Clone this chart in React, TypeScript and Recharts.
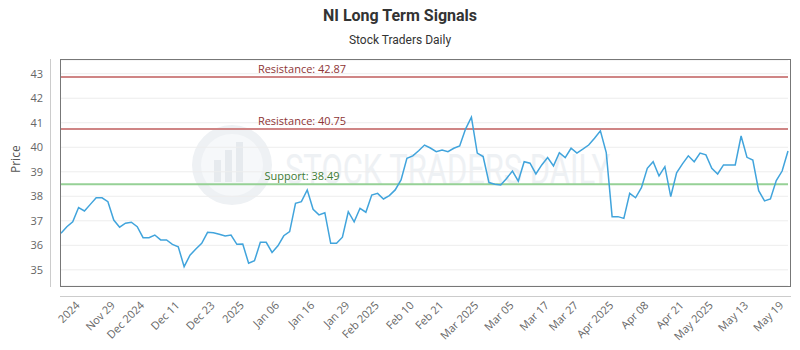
import React from 'react';
import { LineChart, Line, XAxis, YAxis, CartesianGrid, ReferenceLine } from 'recharts';

// closing prices, one per trading day
const prices = [
    36.49, 36.76, 36.96, 37.54, 37.40, 37.67, 37.94, 37.94, 37.78, 37.03,
    36.74, 36.90, 36.94, 36.76, 36.31, 36.31, 36.42, 36.22, 36.22, 36.04,
    35.94, 35.13, 35.60, 35.85, 36.08, 36.53, 36.51, 36.45, 36.38, 36.42,
    36.04, 36.05, 35.27, 35.37, 36.12, 36.12, 35.71, 35.98, 36.39, 36.56,
    37.71, 37.78, 38.26, 37.47, 37.24, 37.33, 36.08, 36.08, 36.33, 37.37,
    36.96, 37.51, 37.35, 38.05, 38.12, 37.89, 38.03, 38.26, 38.67, 39.55,
    39.65, 39.86, 40.09, 39.97, 39.82, 39.89, 39.82, 39.96, 40.05, 40.74,
    41.23, 39.76, 39.62, 38.56, 38.49, 38.46, 38.73, 39.03, 38.62, 39.41,
    39.35, 38.91, 39.28, 39.58, 39.24, 39.78, 39.58, 39.96, 39.76, 39.92,
    40.09, 40.37, 40.67, 39.78, 37.17, 37.17, 37.10, 38.12, 37.94, 38.35,
    39.14, 39.41, 38.83, 39.21, 37.99, 38.96, 39.32, 39.65, 39.41, 39.76,
    39.69, 39.14, 38.91, 39.28, 39.28, 39.28, 40.46, 39.59, 39.48, 38.23,
    37.81, 37.89, 38.64, 39.03, 39.85,
];

// x axis labels and the trading-day index they sit on
const tickIndex = [3, 9, 14, 20, 26, 31, 37, 43, 49, 54, 60, 65, 71, 77, 83, 88, 94, 100, 106, 111, 117, 123];
const tickLabels = [
    '2024', 'Nov 29', 'Dec 2024', 'Dec 11', 'Dec 23', '2025', 'Jan 06', 'Jan 16', 'Jan 29', 'Feb 2025', 'Feb 10',
    'Feb 21', 'Mar 2025', 'Mar 05', 'Mar 17', 'Mar 27', 'Apr 2025', 'Apr 08', 'Apr 21', 'May 2025', 'May 13', 'May 19',
];
const yTicks = [35, 36, 37, 38, 39, 40, 41, 42, 43];

const resistance = [42.87, 40.75];
const support = [38.49];

const data = prices.map((price, i) => ({ i, price }));

const FONT = '"Open Sans", sans-serif';

const XTick = (props: any) => {
    const { x, y, payload } = props;
    const k = tickIndex.indexOf(payload.value);
    const px = x + 2;
    const py = y + 20;
    return (
        <text x={px} y={py} transform={`rotate(-45 ${px} ${py})`} textAnchor="end"
            fontSize={11} fill="#666" fontFamily={FONT}>
            {k >= 0 ? tickLabels[k] : ''}
        </text>
    );
};

const lineLabel = (text: string, color: string) => (props: any) => {
    const vb = props.viewBox || {};
    return (
        <text x={vb.x + 241} y={vb.y - 4} textAnchor="middle" fontSize={11} fill={color} fontFamily={FONT}>
            {text}
        </text>
    );
};

export default function App() {
    return (
        <div style={{ position: 'absolute', left: 0, top: 0, width: 800, height: 350, background: '#fff', overflow: 'hidden' }}>
            <div style={{ position: 'absolute', left: 0, top: 6, width: 800, textAlign: 'center', fontFamily: 'Roboto, sans-serif', fontWeight: 700, fontSize: 16, color: '#333' }}>
                NI Long Term Signals
            </div>
            <div style={{ position: 'absolute', left: 0, top: 33, width: 800, textAlign: 'center', fontFamily: 'Roboto, sans-serif', fontSize: 12, color: '#333' }}>
                Stock Traders Daily
            </div>

            {/* faint watermark */}
            <svg width={800} height={350} style={{ position: 'absolute', left: 0, top: 0 }}>
                <circle cx={232} cy={165} r={40} fill="#eef1f4" />
                <circle cx={232} cy={165} r={31} fill="#f6f8fa" />
                <rect x={214} y={160} width={7} height={22} fill="#e6eaee" />
                <rect x={225} y={150} width={7} height={32} fill="#e6eaee" />
                <rect x={236} y={142} width={7} height={40} fill="#e6eaee" />
                <text x={285} y={184} fontSize={42} fill="#eef1f4" fontFamily="Roboto, sans-serif"
                    textLength={325} lengthAdjust="spacingAndGlyphs">STOCK TRADERS DAILY</text>
            </svg>

            <div style={{ position: 'absolute', left: 0, top: 0 }}>
                <LineChart width={800} height={350} data={data} margin={{ top: 60, right: 12, bottom: 0, left: 0 }}>
                    <CartesianGrid vertical={false} stroke="#ededed" />
                    <XAxis dataKey="i" type="number" domain={[0, 124]} ticks={tickIndex} interval={0}
                        tick={<XTick />} tickLine={false} axisLine={false} tickSize={0} tickMargin={0} height={64} />
                    <YAxis type="number" domain={[34.34, 43.56]} ticks={yTicks} width={61}
                        tickLine={false} axisLine={false} tickSize={0} tickMargin={18}
                        tick={{ fontSize: 11, fill: '#666', fontFamily: FONT }}
                        label={{ value: 'Price', angle: -90, position: 'insideLeft', offset: 16, fill: '#555', fontSize: 12, fontFamily: FONT }} />
                    {resistance.map((r) => (
                        <ReferenceLine key={r} y={r} stroke="#cf8585" strokeWidth={2}
                            label={lineLabel(`Resistance: ${r.toFixed(2)}`, '#8e3535')} />
                    ))}
                    {support.map((s) => (
                        <ReferenceLine key={s} y={s} stroke="#96d196" strokeWidth={2}
                            label={lineLabel(`Support: ${s.toFixed(2)}`, '#3d7a34')} />
                    ))}
                    <Line type="linear" dataKey="price" stroke="#41a4dc" strokeWidth={1.5} dot={false} isAnimationActive={false} />
                </LineChart>
            </div>

            {/* plot frame and offset axis lines */}
            <div style={{ position: 'absolute', left: 60, top: 59, width: 731, height: 228, boxSizing: 'border-box', border: '1px solid #777', pointerEvents: 'none' }} />
            <div style={{ position: 'absolute', left: 50, top: 59, width: 1, height: 228, background: '#ccc' }} />
            <div style={{ position: 'absolute', left: 60, top: 296, width: 731, height: 1, background: '#ccc' }} />
        </div>
    );
}
